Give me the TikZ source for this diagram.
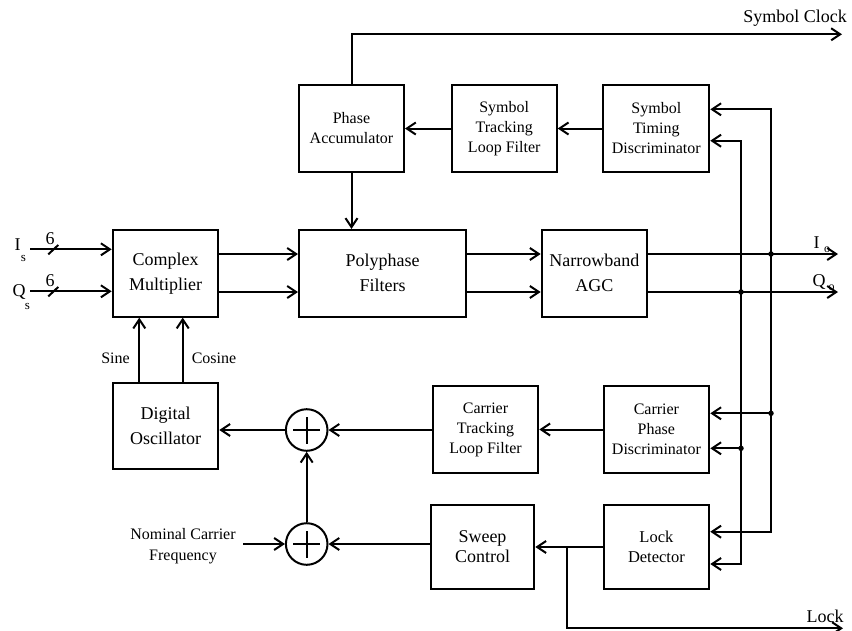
\documentclass[tikz,border=0pt]{standalone}
\usepackage{fontspec}
\setmainfont{Liberation Serif}
\usetikzlibrary{arrows.meta,calc}
\begin{document}
\begin{tikzpicture}[x=1pt,y=-1pt,
  wire/.style={line width=2pt},
  arr/.style={wire,-{Straight Barb[length=9pt,width=12pt]}},
  box/.style={draw,line width=2pt,inner sep=0pt,align=center},
  big/.style={font=\fontsize{18}{25}\selectfont},
  small/.style={font=\fontsize{16}{20}\selectfont},
  sumnode/.style={draw,circle,line width=2pt,minimum size=41.6pt,inner sep=0pt},
  jdot/.style={circle,fill,inner sep=0pt,minimum size=5.5pt}]
\useasboundingbox (0,0) rectangle (852,630);

% boxes
\node[box,small,minimum width=105pt,minimum height=87pt] (pa) at (351.5,128.5) {Phase\\Accumulator};
\node[box,small,minimum width=105pt,minimum height=87pt] (stlf) at (504.2,128.5) {Symbol\\Tracking\\Loop Filter};
\node[box,small,minimum width=106pt,minimum height=87pt] (std) at (656.3,128.5) {Symbol\\Timing\\Discriminator};
\node[box,big,minimum width=105.6pt,minimum height=86.7pt] (cm) at (165.5,273.3) {Complex\\Multiplier};
\node[box,big,minimum width=167pt,minimum height=86.7pt] (pf) at (382.5,273.3) {Polyphase\\Filters};
\node[box,big,minimum width=105.3pt,minimum height=86.7pt] (nagc) at (594.3,273.3) {Narrowband\\AGC};
\node[box,big,minimum width=105.6pt,minimum height=86.3pt] (dosc) at (165.5,425.8) {Digital\\Oscillator};
\node[box,small,minimum width=105.6pt,minimum height=86.7pt] (ctlf) at (485.5,429.5) {Carrier\\Tracking\\Loop Filter};
\node[box,small,minimum width=105.8pt,minimum height=86.7pt] (cpd) at (656.4,429.5) {Carrier\\Phase\\Discriminator};
\node[box,font=\fontsize{18}{20}\selectfont,minimum width=103.6pt,minimum height=84.3pt] (sc) at (482.5,547) {Sweep\\Control};
\node[box,font=\fontsize{16.5}{20}\selectfont,minimum width=105.8pt,minimum height=84.3pt] (ld) at (656.4,547) {Lock\\Detector};

% summing junctions
\node[sumnode] (s1) at (306.7,430) {};
\node[sumnode] (s2) at (306.7,544) {};
\foreach \s in {s1,s2}{
  \draw[wire] ([xshift=-13.5pt]\s.center) -- ([xshift=13.5pt]\s.center);
  \draw[wire] ([yshift=-13.5pt]\s.center) -- ([yshift=13.5pt]\s.center);
}

% labels
\node[big] (sclklbl) at (795,18) {Symbol Clock};
\node[big] (ilbl) at (17.5,245) {I};
\node[font=\fontsize{13}{13}\selectfont] (islbl) at (23.5,258) {s};
\node[big] (qlbl) at (19,292) {Q};
\node[font=\fontsize{13}{13}\selectfont] (qslbl) at (27.5,306.5) {s};
\node[big] (six1) at (50,239) {6};
\node[big] (six2) at (50,281) {6};
\node[big] (iolbl) at (816.5,243) {I};
\node[font=\fontsize{12}{12}\selectfont] (iosub) at (827,250) {o};
\node[big] (qolbl) at (819,281.5) {Q};
\node[font=\fontsize{12}{12}\selectfont] (qosub) at (831.5,288) {o};
\node[small] (sinelbl) at (115.5,358) {Sine};
\node[small] (coslbl) at (214,358) {Cosine};
\node[small,align=center,font=\fontsize{16}{21}\selectfont] (ncf) at (183,546) {Nominal Carrier\\Frequency};
\node[big] (locklbl) at (825,616) {Lock};

% coordinates
\coordinate (iin) at (30,249.3);
\coordinate (qin) at (30,291.3);
\coordinate (Iline) at (0,254);
\coordinate (Qline) at (0,292);
\coordinate (Iout) at (838,254);
\coordinate (Qout) at (838,292);
\coordinate (clk) at (842,34.3);
\coordinate (ja) at (771,254);
\coordinate (jb) at (741,292);
\coordinate (a1) at (771,109.3);
\coordinate (a2) at (771,413.3);
\coordinate (a3) at (771,531.7);
\coordinate (b1) at (741,140.7);
\coordinate (b2) at (741,448.3);
\coordinate (b3) at (741,564);
\coordinate (sinx) at (139.3,0);
\coordinate (cosx) at (182.7,0);
\coordinate (ncfo) at (243,544);
\coordinate (lkb) at (566.7,547);
\coordinate (lkend) at (843,628.3);

% symbol loop
\draw[arr] (std.west) -- (stlf.east);
\draw[arr] (stlf.west) -- (pa.east);
\draw[arr] (pa.south) -- (pa.south |- pf.north);
\draw[arr] (pa.north) |- (clk);

% inputs
\draw[arr] (iin) -- (iin -| cm.west);
\draw[arr] (qin) -- (qin -| cm.west);
\draw[wire] ($(iin)+(18.3,5)$) -- ($(iin)+(28.3,-4.3)$);
\draw[wire] ($(qin)+(18.3,5)$) -- ($(qin)+(28.3,-4.3)$);

% main I/Q path
\draw[arr] (cm.east |- Iline) -- (pf.west |- Iline);
\draw[arr] (cm.east |- Qline) -- (pf.west |- Qline);
\draw[arr] (pf.east |- Iline) -- (nagc.west |- Iline);
\draw[arr] (pf.east |- Qline) -- (nagc.west |- Qline);
\draw[arr] (nagc.east |- Iline) -- (Iout);
\draw[arr] (nagc.east |- Qline) -- (Qout);

% buses
\draw[arr] (ja) |- (std.east |- a1);
\draw[arr] (ja) |- (ld.east |- a3);
\draw[arr] (a2) -- (cpd.east |- a2);
\draw[arr] (jb) |- (std.east |- b1);
\draw[arr] (jb) |- (ld.east |- b3);
\draw[arr] (b2) -- (cpd.east |- b2);
\node[jdot] at (ja) {};
\node[jdot] at (jb) {};
\node[jdot] at (a2) {};
\node[jdot] at (b2) {};

% carrier loop
\draw[arr] (cpd.west) -- (ctlf.east);
\draw[arr] (ctlf.west |- s1) -- (s1.east);
\draw[arr] (s1.west) -- (s1.west -| dosc.east);
\draw[arr] (dosc.north -| sinx) -- (cm.south -| sinx);
\draw[arr] (dosc.north -| cosx) -- (cm.south -| cosx);
\draw[arr] (s2.north) -- (s1.south);
\draw[arr] (ld.west) -- (sc.east);
\draw[arr] (sc.west |- s2) -- (s2.east);
\draw[arr] (ncfo) -- (s2.west);
\draw[arr] (lkb) |- (lkend);
\end{tikzpicture}
\end{document}
